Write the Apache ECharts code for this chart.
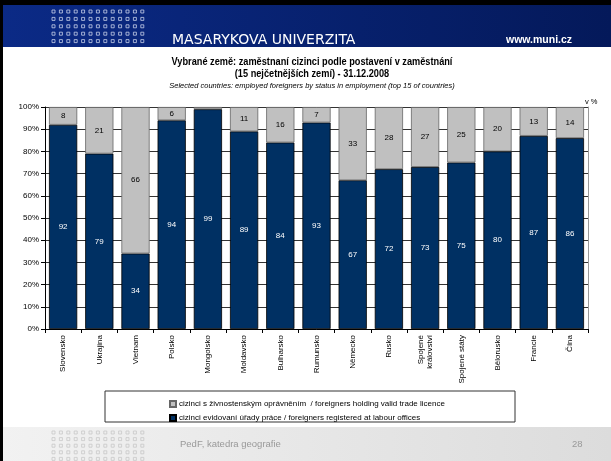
<!DOCTYPE html>
<html>
<head>
<meta charset="utf-8">
<script src="https://cdn.jsdelivr.net/npm/echarts@6/dist/echarts.min.js"></script>
<style>
html,body{margin:0;padding:0;background:#fff;}
#main{width:611px;height:461px;}
</style>
</head>
<body>
<div id="main"></div>
<script>
const categories = ['Slovensko','Ukrajina','Vietnam','Polsko','Mongolsko','Moldavsko','Bulharsko','Rumunsko','Německo','Rusko','Spojené\nkrálovství','Spojené státy','Bělorusko','Francie','Čína'];
const tradeLicence = [8,21,66,6,1,11,16,7,33,28,27,25,20,13,14];
const labourOffices = [92,79,34,94,99,89,84,93,67,72,73,75,80,87,86];
const yTicks = [0,10,20,30,40,50,60,70,80,90,100];

const nameTrade = 'cizinci s živnostenským oprávněním  / foreigners holding valid trade licence';
const nameLabour = 'cizinci evidovaní úřady práce / foreigners registered at labour offices';

// decorative dot pattern
function dots(x0, y0, cols, rows, dx, dy, color, clipY0, clipY1) {
  const out = [];
  for (let r = 0; r < rows; r++) {
    for (let c = 0; c < cols; c++) {
      const x = x0 + c * dx, y = y0 + r * dy;
      if (y < clipY0 || y + 3 > clipY1) continue;
      out.push({type:'rect', shape:{x:x, y:y, width:3, height:3}, style:{fill:'none', stroke:color, lineWidth:0.8}, silent:true});
    }
  }
  return out;
}

function txt(x, y, text, font, fill, align, sx) {
  return {type:'text', x:x, y:y, scaleX: sx || 1, style:{text:text, font:font, fill:fill, textAlign:align || 'left', textVerticalAlign:'middle'}, silent:true};
}

const graphics = [
  {type:'rect', shape:{x:0,y:0,width:611,height:461}, style:{fill:'#fff'}, z:-10},
  {type:'rect', shape:{x:0,y:5,width:611,height:42}, style:{fill:{type:'linear',x:0,y:0,x2:1,y2:0,colorStops:[{offset:0,color:'#0b2a86'},{offset:1,color:'#04195a'}]}}, z:-5},
  {type:'rect', shape:{x:0,y:427,width:611,height:34}, style:{fill:{type:'linear',x:0,y:0,x2:1,y2:0,colorStops:[{offset:0,color:'#f2f2f2'},{offset:1,color:'#dcdcdc'}]}}, z:-5},
  {type:'rect', shape:{x:0,y:0,width:611,height:5}, style:{fill:'#000'}, z:-4},
  {type:'rect', shape:{x:0,y:0,width:3,height:461}, style:{fill:'#000'}, z:-4},
  {type:'rect', shape:{x:105,y:391,width:410,height:31}, style:{fill:'#fff', stroke:'#333', lineWidth:1}, z:-1},
  txt(172, 40, 'MASARYKOVA UNIVERZITA', '14px "DejaVu Sans"', '#fff'),
  txt(506, 40, 'www.muni.cz', 'bold 10.5px "Liberation Sans"', '#fff'),
  {type:'group', x:312, y:0, scaleX:0.92, children:[
    txt(0, 62, 'Vybrané země: zaměstnaní cizinci podle postavení v zaměstnání', 'bold 10px "Liberation Sans"', '#000', 'center'),
    txt(0, 74, '(15 nejčetnějších zemí) - 31.12.2008', 'bold 10px "Liberation Sans"', '#000', 'center')
  ]},
  txt(312, 86, 'Selected countries: employed foreigners by status in employment (top 15 of countries)', 'italic 7.5px "Liberation Sans"', '#000', 'center'),
  txt(585, 102, 'v %', '7.5px "Liberation Sans"', '#000'),
  txt(180, 444, 'PedF, katedra geografie', '9.5px "Liberation Sans"', '#999'),
  txt(572, 444, '28', '9.5px "Liberation Sans"', '#999')
].concat(dots(52, 10, 13, 6, 7.4, 7.4, '#c8d0e8', 6, 47))
 .concat(dots(52, 431, 13, 5, 7.4, 6.6, '#c8c8c8', 428, 461));

const chart = echarts.init(document.getElementById('main'), null, {renderer:'canvas'});
chart.setOption({
  animation:false,
  textStyle:{fontFamily:'"Liberation Sans", Arial, sans-serif'},
  graphic: graphics,
  grid:{left:45, right:23, top:107, bottom:132, containLabel:false},
  legend:{
    orient:'vertical', left:164, top:395, itemWidth:6, itemHeight:6, itemGap:6,
    data:[nameTrade, nameLabour],
    textStyle:{fontSize:8, color:'#000', padding:[0,0,0,-2]},
    icon:'rect'
  },
  xAxis:{
    type:'category', data:categories, boundaryGap:true,
    axisLine:{lineStyle:{color:'#000', width:1}},
    axisTick:{show:true, length:4, lineStyle:{color:'#000'}},
    axisLabel:{rotate:90, fontSize:8, color:'#000', margin:6, interval:0, lineHeight:9}
  },
  yAxis:[{
    type:'value', min:0, max:100, interval:10,
    axisLine:{show:true, lineStyle:{color:'#000'}},
    axisTick:{show:true, length:4, lineStyle:{color:'#000'}},
    axisLabel:{fontSize:8, color:'#000', margin:6, formatter:v => yTicks.includes(v) ? v + '%' : ''},
    splitLine:{show:true, lineStyle:{color:'#333', width:1}}
  },{
    type:'value', min:0, max:100, position:'right',
    axisLine:{show:true, lineStyle:{color:'#999'}},
    axisTick:{show:false}, axisLabel:{show:false}, splitLine:{show:false}
  }],
  series:[
    {
      name:nameLabour, type:'bar', stack:'s', data:labourOffices, barCategoryGap:'22%',
      itemStyle:{color:'#003063', borderColor:'#000', borderWidth:0.8},
      label:{show:true, position:'inside', color:'#fff', fontSize:8}
    },
    {
      name:nameTrade, type:'bar', stack:'s', data:tradeLicence, barCategoryGap:'22%',
      itemStyle:{color:'#c0c0c0', borderColor:'#666', borderWidth:0.8},
      label:{show:true, position:'inside', color:'#000', fontSize:8, formatter:p => p.value >= 3 ? p.value : ''}
    }
  ]
});
</script>
</body>
</html>
